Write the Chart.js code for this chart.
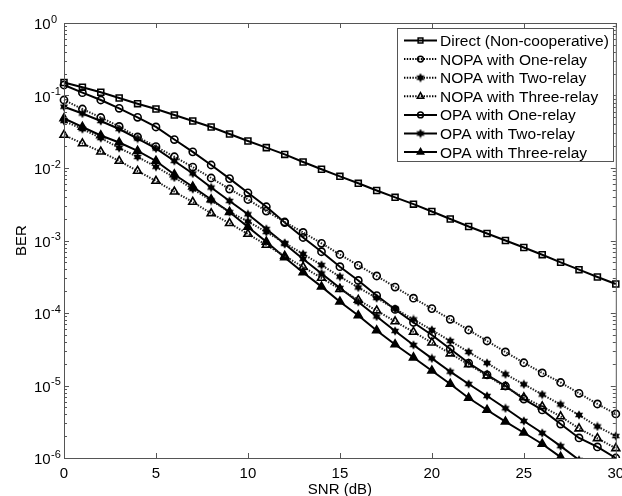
<!DOCTYPE html>
<html>
<head>
<meta charset="utf-8">
<script src="https://cdn.jsdelivr.net/npm/chart.js@4.4.0/dist/chart.umd.min.js"></script>
<style>
html, body { margin: 0; padding: 0; background: #fff; }
</style>
</head>
<body>
<canvas id="ber" width="622" height="496"></canvas>
<script>
// SNR axis (dB)
var snr = [0,1,2,3,4,5,6,7,8,9,10,11,12,13,14,15,16,17,18,19,20,21,22,23,24,25,26,27,28,29,30];

var berDirect = [0.151, 0.130, 0.111, 0.0924, 0.0771, 0.0651, 0.0538, 0.0445, 0.0368, 0.0294, 0.0236,
  0.0191, 0.0154, 0.0121, 0.0096, 0.00768, 0.00615, 0.00489, 0.00394, 0.00317, 0.00251,
  0.00198, 0.00156, 0.00125, 0.00100, 8.0e-4, 6.37e-4, 5.0e-4, 3.96e-4, 3.14e-4, 2.51e-4];
var berNopa1 = [0.0867, 0.0651, 0.0497, 0.0374, 0.0268, 0.0197, 0.0143, 0.0103, 0.00728, 0.00513, 0.00368,
  0.00255, 0.0018, 0.00129, 9.15e-4, 6.41e-4, 4.55e-4, 3.24e-4, 2.28e-4, 1.60e-4, 1.15e-4,
  8.19e-5, 5.83e-5, 4.11e-5, 2.90e-5, 2.06e-5, 1.49e-5, 1.10e-5, 7.80e-6, 5.56e-6, 4.05e-6];
var berNopa2 = [0.0445, 0.0345, 0.0259, 0.0189, 0.0142, 0.0104, 0.0074, 0.00513, 0.00356, 0.00247, 0.00183,
  0.00131, 9.24e-4, 6.51e-4, 4.59e-4, 3.17e-4, 2.25e-4, 1.61e-4, 1.14e-4, 8.14e-5, 5.83e-5,
  4.11e-5, 2.90e-5, 2.04e-5, 1.43e-5, 1.04e-5, 7.51e-6, 5.47e-6, 3.92e-6, 2.72e-6, 2.01e-6];
var berNopa3 = [0.0285, 0.0218, 0.0168, 0.0125, 0.00909, 0.00662, 0.00471, 0.0034, 0.00237, 0.00173, 0.00123,
  8.67e-4, 6.11e-4, 4.31e-4, 3.04e-4, 2.14e-4, 1.51e-4, 1.08e-4, 7.64e-5, 5.47e-5, 3.89e-5,
  2.76e-5, 1.95e-5, 1.37e-5, 9.54e-6, 6.83e-6, 5.13e-6, 3.74e-6, 2.55e-6, 1.87e-6, 1.36e-6];
var berOpa1 = [0.1396, 0.1093, 0.0867, 0.0666, 0.0500, 0.0368, 0.0247, 0.0167, 0.0110, 0.00714, 0.00455,
  0.00292, 0.00177, 0.00110, 7.0e-4, 4.35e-4, 2.81e-4, 1.74e-4, 1.12e-4, 7.4e-5, 4.97e-5,
  3.19e-5, 2.04e-5, 1.40e-5, 9.84e-6, 6.5e-6, 4.6e-6, 2.94e-6, 1.89e-6, 1.42e-6, 1.0e-6];
var berOpa2 = [0.0700, 0.0565, 0.0445, 0.0345, 0.0255, 0.0186, 0.0125, 0.0084, 0.00538, 0.00351, 0.0023,
  0.00144, 8.95e-4, 5.56e-4, 3.51e-4, 2.21e-4, 1.42e-4, 8.95e-5, 5.65e-5, 3.62e-5, 2.37e-5,
  1.55e-5, 1.05e-5, 7.17e-6, 4.85e-6, 3.24e-6, 2.21e-6, 1.46e-6, 9.4e-7];
var berOpa3 = [0.0485, 0.0368, 0.0281, 0.0225, 0.0172, 0.0125, 0.00813, 0.00552, 0.00368, 0.00247, 0.00154,
  9.6e-4, 5.83e-4, 3.62e-4, 2.31e-4, 1.43e-4, 9.24e-5, 5.74e-5, 3.68e-5, 2.43e-5, 1.60e-5,
  1.05e-5, 6.72e-6, 4.59e-6, 3.17e-6, 2.23e-6, 1.56e-6, 1.03e-6, 6.8e-7];

var seriesNames = ['Direct (Non-cooperative)', 'NOPA with One-relay', 'NOPA with Two-relay',
  'NOPA with Three-relay', 'OPA with One-relay', 'OPA with Two-relay', 'OPA with Three-relay'];
var xTicks = [0, 5, 10, 15, 20, 25, 30];
var yExponents = [0, -1, -2, -3, -4, -5, -6];

var FONT = "'Liberation Sans', Arial, sans-serif";

// small filled hexagram used as the star marker
function makeStar(size) {
  var c = document.createElement('canvas');
  c.width = c.height = size;
  var g = c.getContext('2d');
  var m = size / 2, r1 = size / 2 - 0.3, r2 = r1 * 0.58;
  g.beginPath();
  for (var i = 0; i < 12; i++) {
    var a = -Math.PI / 2 + i * Math.PI / 6;
    var r = i % 2 ? r2 : r1;
    g.lineTo(m + r * Math.cos(a), m + r * Math.sin(a));
  }
  g.closePath();
  g.fillStyle = '#000';
  g.fill();
  return c;
}
var star = makeStar(10);

function series(label, values, dotted, style, filled) {
  var radius = style === 'circle' ? 3.6 : style === 'rect' ? 4.2 : 4.6;
  return {
    label: label,
    data: values.map(function (v, i) { return {x: snr[i], y: v}; }),
    borderColor: dotted ? '#222' : '#000',
    borderWidth: 2,
    borderDash: dotted ? [1.4, 1.4] : [],
    pointStyle: style,
    pointRadius: radius,
    pointBorderColor: '#000',
    pointBackgroundColor: filled ? '#000' : 'rgba(0,0,0,0)',
    pointBorderWidth: 1.6,
    tension: 0,
    clip: {left: 8, right: 8, top: 8, bottom: 0}
  };
}

var datasets = [
  series(seriesNames[0], berDirect, false, 'rect', false),
  series(seriesNames[1], berNopa1, true, 'circle', false),
  series(seriesNames[2], berNopa2, true, star, true),
  series(seriesNames[3], berNopa3, true, 'triangle', false),
  series(seriesNames[4], berOpa1, false, 'circle', false),
  series(seriesNames[5], berOpa2, false, star, true),
  series(seriesNames[6], berOpa3, false, 'triangle', true)
];

// axes box, inward ticks, tick labels, titles and legend
var frame = {
  id: 'frame',
  afterDraw: function (chart) {
    var ctx = chart.ctx, a = chart.chartArea;
    var xs = chart.scales.x, ys = chart.scales.y;
    ctx.save();
    ctx.strokeStyle = '#555';
    ctx.lineWidth = 1;
    ctx.strokeRect(a.left + 0.5, a.top + 0.5, a.right - a.left, a.bottom - a.top);
    ctx.beginPath();
    xTicks.forEach(function (v) {
      var x = Math.round(xs.getPixelForValue(v)) + 0.5;
      ctx.moveTo(x, a.bottom); ctx.lineTo(x, a.bottom - 5);
      ctx.moveTo(x, a.top); ctx.lineTo(x, a.top + 5);
    });
    yExponents.forEach(function (e) {
      var y = Math.round(ys.getPixelForValue(Math.pow(10, e))) + 0.5;
      ctx.moveTo(a.left, y); ctx.lineTo(a.left + 5, y);
      ctx.moveTo(a.right, y); ctx.lineTo(a.right - 5, y);
      if (e < 0) {
        for (var m = 2; m <= 9; m++) {
          var ym = Math.round(ys.getPixelForValue(m * Math.pow(10, e))) + 0.5;
          ctx.moveTo(a.left, ym); ctx.lineTo(a.left + 3, ym);
          ctx.moveTo(a.right, ym); ctx.lineTo(a.right - 3, ym);
        }
      }
    });
    ctx.stroke();

    ctx.fillStyle = '#000';
    ctx.textBaseline = 'alphabetic';
    // y tick labels 10^e
    yExponents.forEach(function (e) {
      var y = ys.getPixelForValue(Math.pow(10, e));
      ctx.font = '15px ' + FONT;
      ctx.textAlign = 'left';
      ctx.fillText('10', 34, y + 6);
      ctx.font = '11px ' + FONT;
      ctx.fillText(e === 0 ? '0' : '-' + (-e), 51, y - 0.5);
    });
    // x tick labels
    ctx.font = '15px ' + FONT;
    ctx.textAlign = 'center';
    xTicks.forEach(function (v) {
      ctx.fillText(String(v), xs.getPixelForValue(v), 477.5);
    });
    ctx.fillText('SNR (dB)', (a.left + a.right) / 2, 493.5);
    ctx.save();
    ctx.translate(26, (a.top + a.bottom) / 2);
    ctx.rotate(-Math.PI / 2);
    ctx.fillText('BER', 0, 0);
    ctx.restore();

    // legend
    var lx = 397, ly = 28, lw = 216, lh = 133;
    ctx.fillStyle = '#fff';
    ctx.fillRect(lx, ly, lw, lh);
    ctx.strokeStyle = '#555';
    ctx.lineWidth = 1;
    ctx.strokeRect(lx + 0.5, ly + 0.5, lw, lh);
    chart.data.datasets.forEach(function (ds, i) {
      var y = 40.5 + i * 18.6;
      ctx.strokeStyle = '#000';
      ctx.lineWidth = 2;
      ctx.setLineDash(ds.borderDash);
      ctx.beginPath();
      ctx.moveTo(404, y); ctx.lineTo(437, y);
      ctx.stroke();
      ctx.setLineDash([]);
      ctx.lineWidth = 1.5;
      ctx.fillStyle = ds.pointBackgroundColor;
      Chart.helpers.drawPoint(ctx, {pointStyle: ds.pointStyle, radius: ds.pointRadius * 0.8,
        borderWidth: 1.5, rotation: 0}, 420.5, y);
      ctx.fillStyle = '#000';
      ctx.font = '15.5px ' + FONT;
      ctx.textAlign = 'left';
      ctx.fillText(ds.label, 440, y + 5.5);
    });
    ctx.restore();
  }
};

new Chart(document.getElementById('ber'), {
  type: 'line',
  data: {datasets: datasets},
  options: {
    responsive: false,
    animation: false,
    layout: {padding: {left: 0, right: 5, top: 23, bottom: 0}},
    plugins: {legend: {display: false}, tooltip: {enabled: false}},
    scales: {
      x: {
        type: 'linear', min: 0, max: 30,
        ticks: {display: false, stepSize: 5},
        grid: {display: false},
        border: {display: false},
        afterFit: function (s) { s.height = 38; }
      },
      y: {
        type: 'logarithmic', min: 1e-6, max: 1,
        ticks: {display: false},
        grid: {display: false},
        border: {display: false},
        afterFit: function (s) { s.width = 64; }
      }
    }
  },
  plugins: [frame]
});
</script>
</body>
</html>
